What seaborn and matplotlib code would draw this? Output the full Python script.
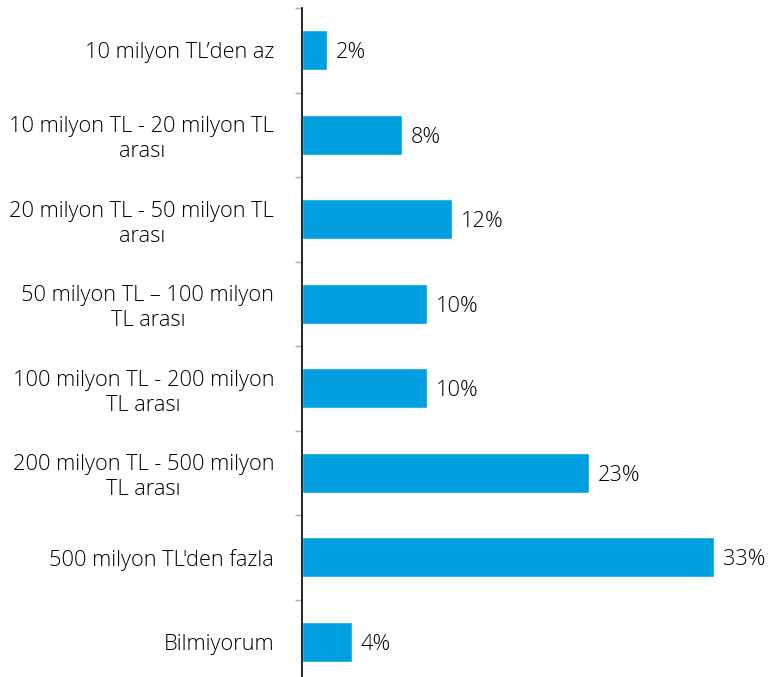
import matplotlib
matplotlib.use("Agg")
import matplotlib.pyplot as plt
import seaborn as sns
import pandas as pd
import numpy as np

categories = [
    "10 milyon TL’den az",
    "10 milyon TL - 20 milyon TL\narası",
    "20 milyon TL - 50 milyon TL\narası",
    "50 milyon TL – 100 milyon\nTL arası",
    "100 milyon TL - 200 milyon\nTL arası",
    "200 milyon TL - 500 milyon\nTL arası",
    "500 milyon TL'den fazla",
    "Bilmiyorum",
]
shares = [2, 8, 12, 10, 10, 23, 33, 4]

df = pd.DataFrame({"kategori": categories, "oran": shares})

sns.set_style("white")
plt.rcParams["font.family"] = ["Open Sans", "DejaVu Sans"]
plt.rcParams["font.weight"] = "light"

fig = plt.figure(figsize=(7.68, 6.77), dpi=100)
ax = fig.add_axes([302 / 768, -7 / 677, 466 / 768, 676 / 677])

sns.barplot(data=df, x="oran", y="kategori", orient="h", color="#009FDF",
            saturation=1, width=0.47, ax=ax)

ax.set_xlim(0, 466 / 12.485)
ax.set_ylim(len(categories) - 0.5, -0.5)
ax.set_xlabel("")
ax.set_ylabel("")
ax.set_xticks([])

for s in ["top", "right", "bottom"]:
    ax.spines[s].set_visible(False)
ax.spines["left"].set_color("black")
ax.spines["left"].set_linewidth(1.2)

ax.tick_params(axis="y", which="major", left=False, length=0, pad=20,
               labelsize=15.7, labelcolor="#000000")
ax.set_yticks(np.arange(len(categories) + 1) - 0.5, minor=True)
ax.tick_params(axis="y", which="minor", left=True, length=5, width=1,
               color="#aaaaaa")
for lbl in ax.get_yticklabels():
    lbl.set_multialignment("center")
    lbl.set_linespacing(1.25)
    lbl.set_fontweight("light")

for i, v in enumerate(shares):
    ax.text(v + 0.7, i, f"{v}%", va="center_baseline", ha="left",
            fontsize=15.7, color="#000000", fontweight="light")

fig.savefig("out.png", dpi=100)
